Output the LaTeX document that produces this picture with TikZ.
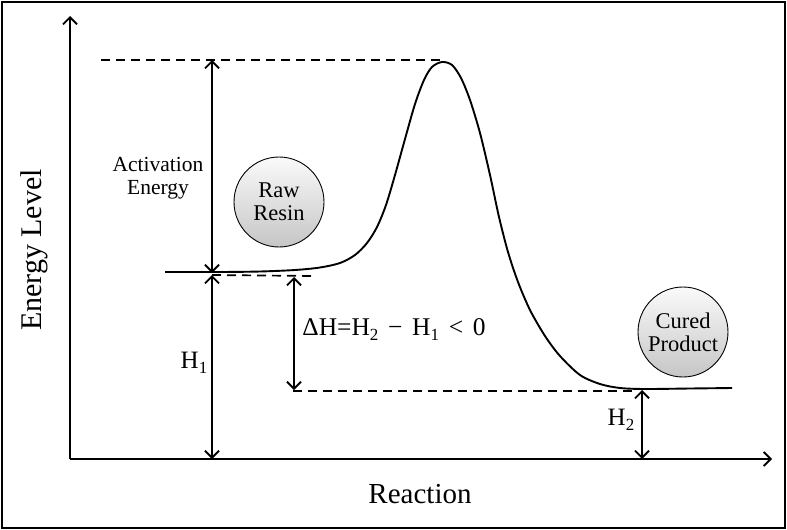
\documentclass[tikz,border=0pt]{standalone}
\usepackage{fontspec}
\setmainfont{Liberation Serif}
\usetikzlibrary{arrows.meta}
\newcommand\lowsub[1]{\raisebox{-5pt}{\fontsize{17}{17}\selectfont #1}}
\begin{document}
\begin{tikzpicture}[x=1pt,y=-1pt,
  ln/.style={line width=1.9pt},
  arr/.style={ln,-{Straight Barb[length=7pt,width=14pt]}},
  dbl/.style={ln,{Straight Barb[length=7pt,width=14pt]}-{Straight Barb[length=7pt,width=14pt]}},
  dsh/.style={line width=1.7pt,dash pattern=on 9pt off 6pt},
  ball/.style={circle,draw=black,line width=0.9pt,minimum size=90pt,inner sep=0pt,top color=gray!4,bottom color=gray!45,align=center,font=\fontsize{22.5}{23}\selectfont},
  lbl/.style={align=center,inner sep=0pt}]
\useasboundingbox (0,0) rectangle (787,530);
\draw[line width=2.5pt] (2,2) rectangle (785,528);
% axes
\coordinate (O) at (70,459);
\coordinate (Ytop) at (70,16);
\coordinate (Xend) at (772,459);
\draw[arr] (O) -- (Ytop);
\draw[arr] (O) -- (Xend);
% level coordinates
\coordinate (TopL) at (101,60);
\coordinate (Peak) at (440,60);
\coordinate (AEtop) at (212,60);
\coordinate (AEbot) at (212,273);
\coordinate (H1top) at (212,275);
\coordinate (H1bot) at (212,459);
\coordinate (R1) at (313,276);
\coordinate (DHtop) at (294,277);
\coordinate (DHbot) at (294,390);
\coordinate (D2L) at (293,391);
\coordinate (D2R) at (636,391);
\coordinate (H2top) at (642,390);
\coordinate (H2bot) at (642,459);
% dashed lines
\draw[dsh] (TopL) -- (Peak);
\draw[dsh] (H1top) -- (R1);
\draw[dsh] (D2L) -- (D2R);
% arrows
\draw[dbl] (AEbot) -- (AEtop);
\draw[dbl] (H1top) -- (H1bot);
\draw[dbl] (DHtop) -- (DHbot);
\draw[dbl] (H2top) -- (H2bot);
% curve
\draw[ln] plot[smooth,tension=0.5] coordinates {
 (165,272) (220,272) (260,271.5) (295,270) (320,267.5) (340,263) (355,255)
 (367,243) (377,227) (386,205) (395,175) (405,139) (415,104) (424,80) (432,67)
 (442,62) (452,65) (461,78) (470,100) (480,133) (490,175) (499,217) (508,252)
 (518,282) (530,310) (545,336) (560,356) (580,375) (600,384) (620,388)
 (645,389) (690,388.5) (732,388)};
% balls
\node[ball] (raw) at (279,202) {Raw\\Resin};
\node[ball] (cured) at (683,332) {Cured\\Product};
% labels
\node[lbl,font=\fontsize{21.5}{23}\selectfont] (ae) at (158,178) {Activation\\Energy};
\node[lbl,anchor=base,font=\fontsize{25}{26}\selectfont] (h1) at (194,368) {H\lowsub{1}};
\node[lbl,anchor=base,font=\fontsize{25}{26}\selectfont] (h2) at (621,425) {H\lowsub{2}};
\node[lbl,anchor=base,font=\fontsize{25.5}{26}\selectfont] (dh) at (394,335) {ΔH=H\lowsub{2}\hspace{0.38em}−\hspace{0.38em}H\lowsub{1}\hspace{0.38em}<\hspace{0.38em}0};
\node[lbl,anchor=base,font=\fontsize{29}{32}\selectfont] (rx) at (420,503) {Reaction};
\node[lbl,rotate=90,font=\fontsize{30}{32}\selectfont] (el) at (34,250) {Energy Level};
\end{tikzpicture}
\end{document}
